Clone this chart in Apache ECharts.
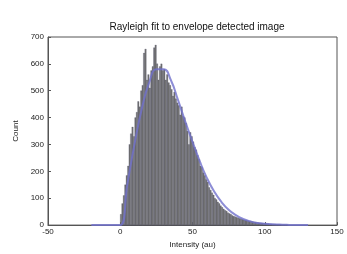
<!DOCTYPE html>
<html>
<head>
<meta charset="utf-8">
<script src="https://cdn.jsdelivr.net/npm/echarts@6/dist/echarts.min.js"></script>
<style>
  html, body { margin: 0; padding: 0; background: #fff; }
  #chart { width: 347px; height: 254px; }
</style>
</head>
<body>
<div id="chart"></div>
<script>
// histogram: bin left edges 0..115 (width 1), counts
const binStart = 0
const binWidth = 1
const counts = [
  40, 80, 110, 150, 185, 220, 300, 340, 365, 330,
  400, 420, 460, 440, 500, 520, 640, 655, 540, 560,
  510, 575, 590, 660, 670, 600, 540, 590, 600, 575,
  580, 540, 560, 530, 520, 505, 480, 495, 470, 455,
  445, 410, 440, 405, 400, 380, 350, 300, 345, 330,
  310, 290, 280, 260, 245, 220, 215, 195, 185, 170,
  160, 140, 130, 120, 112, 100, 95, 86, 80, 72,
  66, 60, 55, 52, 46, 43, 40, 36, 33, 31,
  29, 27, 25, 24, 22, 20, 19, 18, 16, 15,
  14, 13, 12, 11, 10, 9, 8, 8, 7, 6,
  6, 5, 5, 4, 4, 3, 3, 3, 2, 2,
  2, 1, 1, 1, 1, 1
]

// Rayleigh fit curve
const fitX = [-20, -15, -10, -5, 0, 5, 10, 15, 20, 25, 30, 35, 40, 45, 50, 55, 60, 65, 70, 75, 80, 85, 90, 95, 100, 105, 110, 115, 120, 125, 130]
const fitY = [0, 0, 0, 0, 0, 155, 305, 435, 530, 580, 580, 540, 465, 385, 310, 238, 175, 125, 86, 57, 37, 23, 14, 8, 5, 3, 2, 1, 0, 0, 0]

const xTicks = [-50, 0, 50, 100, 150]
const yTicks = [0, 100, 200, 300, 400, 500, 600, 700]

const chart = echarts.init(document.getElementById('chart'))

const histData = counts.map((c, i) => [binStart + i * binWidth, c])
const fitData = fitX.map((x, i) => [x, fitY[i]])

const labelFont = { fontFamily: 'Liberation Sans, Arial, sans-serif', fontSize: 8, color: '#222' }

chart.setOption({
  animation: false,
  backgroundColor: '#fff',
  title: {
    text: 'Rayleigh fit to envelope detected image',
    left: 192,
    textAlign: 'center',
    top: 17,
    textStyle: { fontFamily: 'Liberation Sans, Arial, sans-serif', fontSize: 10, fontWeight: 'normal', color: '#111' },
  },
  grid: {
    left: 48,
    right: 10,
    top: 37,
    bottom: 22,
    show: true,
    borderColor: '#555',
    borderWidth: 1,
  },
  xAxis: {
    type: 'value',
    min: xTicks[0],
    max: xTicks[xTicks.length - 1],
    interval: 50,
    name: 'Intensity (au)',
    nameLocation: 'middle',
    nameGap: 12,
    nameTextStyle: labelFont,
    axisLine: { show: true, onZero: false, lineStyle: { color: '#555' } },
    axisTick: { show: true, inside: true, length: 3, lineStyle: { color: '#555' } },
    axisLabel: Object.assign({ margin: 3 }, labelFont),
    splitLine: { show: false },
  },
  yAxis: {
    type: 'value',
    min: yTicks[0],
    max: yTicks[yTicks.length - 1],
    interval: 100,
    name: 'Count',
    nameLocation: 'middle',
    nameGap: 24,
    nameTextStyle: labelFont,
    axisLine: { show: true, onZero: false, lineStyle: { color: '#555' } },
    axisTick: { show: true, inside: true, length: 3, lineStyle: { color: '#555' } },
    axisLabel: Object.assign({ margin: 4 }, labelFont),
    splitLine: { show: false },
  },
  series: [
    {
      type: 'custom',
      data: histData,
      renderItem: (params, api) => {
        const x = api.value(0)
        const y = api.value(1)
        const p0 = api.coord([x, 0])
        const p1 = api.coord([x + binWidth, y])
        return {
          type: 'rect',
          shape: { x: p0[0], y: p1[1], width: p1[0] - p0[0], height: p0[1] - p1[1] },
          style: { fill: '#737370', stroke: '#4c4c6e', lineWidth: 0.25 },
        }
      },
      z: 2,
    },
    {
      type: 'line',
      data: fitData,
      smooth: true,
      showSymbol: false,
      lineStyle: { color: '#7070cc', width: 2, opacity: 0.8 },
      z: 3,
    },
  ],
})
</script>
</body>
</html>
